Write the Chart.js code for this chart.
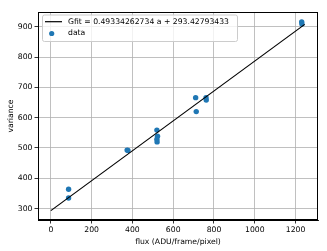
<!DOCTYPE html>
<html><head><meta charset="utf-8">
<script src="https://cdn.jsdelivr.net/npm/chart.js@4/dist/chart.umd.min.js"></script>
<style>html,body{margin:0;padding:0;background:#fff}#w{width:327px;height:251px}</style>
</head><body><div id="w"><canvas id="c" width="327" height="251"></canvas></div>
<script>
const fluxValues = [87, 87, 374, 378, 520, 523, 520, 521, 710, 713, 761, 762, 1230, 1231];
const varianceValues = [364, 335, 493, 492, 559, 539, 529, 520, 666, 620, 666, 658, 916, 909];
const fitSlope = 0.49334262734;
const fitIntercept = 293.42793433;
const fitRange = [0, 1245];
const xTicks = [0, 200, 400, 600, 800, 1000, 1200];
const yTicks = [300, 400, 500, 600, 700, 800, 900];
const fitLabel = 'Gfit = 0.49334262734 a + 293.42793433';
const dataLabel = 'data';

const fitPoints = fitRange.map(x => ({x: x, y: fitSlope * x + fitIntercept}));
const scatterPoints = fluxValues.map((x, i) => ({x: x, y: varianceValues[i]}));
const FONT = '"DejaVu Sans", sans-serif';
const FS = 7.7;

const framePlugin = {
  id: 'frame',
  afterDraw(chart) {
    const {ctx, chartArea: a} = chart;
    ctx.save();
    ctx.strokeStyle = '#000'; ctx.lineWidth = 1;
    ctx.strokeRect(Math.round(a.left) + 0.5, Math.round(a.top) + 0.5, Math.round(a.right - a.left) - 1, Math.round(a.bottom - a.top) - 1);
    // legend
    const lx = 42, ly = 14.5, lw = 195, lh = 26.5, r = 2;
    ctx.fillStyle = 'rgba(255,255,255,0.8)';
    ctx.strokeStyle = '#cccccc';
    ctx.beginPath();
    ctx.roundRect(lx + 0.5, ly + 0.5, lw, lh, r);
    ctx.fill(); ctx.stroke();
    ctx.strokeStyle = '#000'; ctx.lineWidth = 1.2;
    ctx.beginPath(); ctx.moveTo(45, 21.7); ctx.lineTo(62, 21.7); ctx.stroke();
    ctx.fillStyle = '#1f77b4';
    ctx.beginPath(); ctx.arc(51.7, 33.5, 2.6, 0, Math.PI * 2); ctx.fill();
    ctx.fillStyle = '#000';
    ctx.font = FS + 'px ' + FONT;
    ctx.textBaseline = 'middle';
    ctx.fillText(fitLabel, 68, 21.7);
    ctx.fillText(dataLabel, 68, 33.5);
    ctx.restore();
  }
};

new Chart(document.getElementById('c'), {
  type: 'scatter',
  data: {
    datasets: [
      {label: fitLabel, type: 'line', data: fitPoints, borderColor: '#000', borderWidth: 1.2, pointRadius: 0, fill: false, order: 1},
      {label: dataLabel, data: scatterPoints, backgroundColor: '#1f77b4', borderColor: '#1f77b4', pointRadius: 2.7, pointBorderWidth: 0, order: 2}
    ]
  },
  options: {
    responsive: false, animation: false, devicePixelRatio: 1,
    layout: {padding: {top: 12, right: 9, left: 0, bottom: 4}},
    plugins: {legend: {display: false}, tooltip: {enabled: false}},
    scales: {
      x: {
        type: 'linear', min: -63, max: 1310,
        afterBuildTicks: s => { s.ticks = xTicks.map(v => ({value: v})); },
        afterFit: s => { s.height = 27; },
        grid: {color: '#b0b0b0', lineWidth: 0.8, tickColor: '#000', tickLength: 3.5, tickWidth: 0.8},
        border: {color: '#000', width: 1},
        ticks: {color: '#000', font: {family: FONT, size: FS}, padding: 2, maxRotation: 0, callback: v => String(v)},
        title: {display: true, text: 'flux (ADU/frame/pixel)', color: '#000', font: {family: FONT, size: FS}, padding: {top: 1, bottom: 0}}
      },
      y: {
        type: 'linear', min: 262.5, max: 948.5,
        afterBuildTicks: s => { s.ticks = yTicks.map(v => ({value: v})); },
        afterFit: s => { s.width = 38; },
        grid: {color: '#b0b0b0', lineWidth: 0.8, tickColor: '#000', tickLength: 3.5, tickWidth: 0.8},
        border: {color: '#000', width: 1},
        ticks: {color: '#000', font: {family: FONT, size: FS}, padding: 2, callback: v => String(v)},
        title: {display: true, text: 'variance', color: '#000', font: {family: FONT, size: FS}, padding: {top: 6, bottom: 0}}
      }
    }
  },
  plugins: [framePlugin]
});
</script></body></html>
